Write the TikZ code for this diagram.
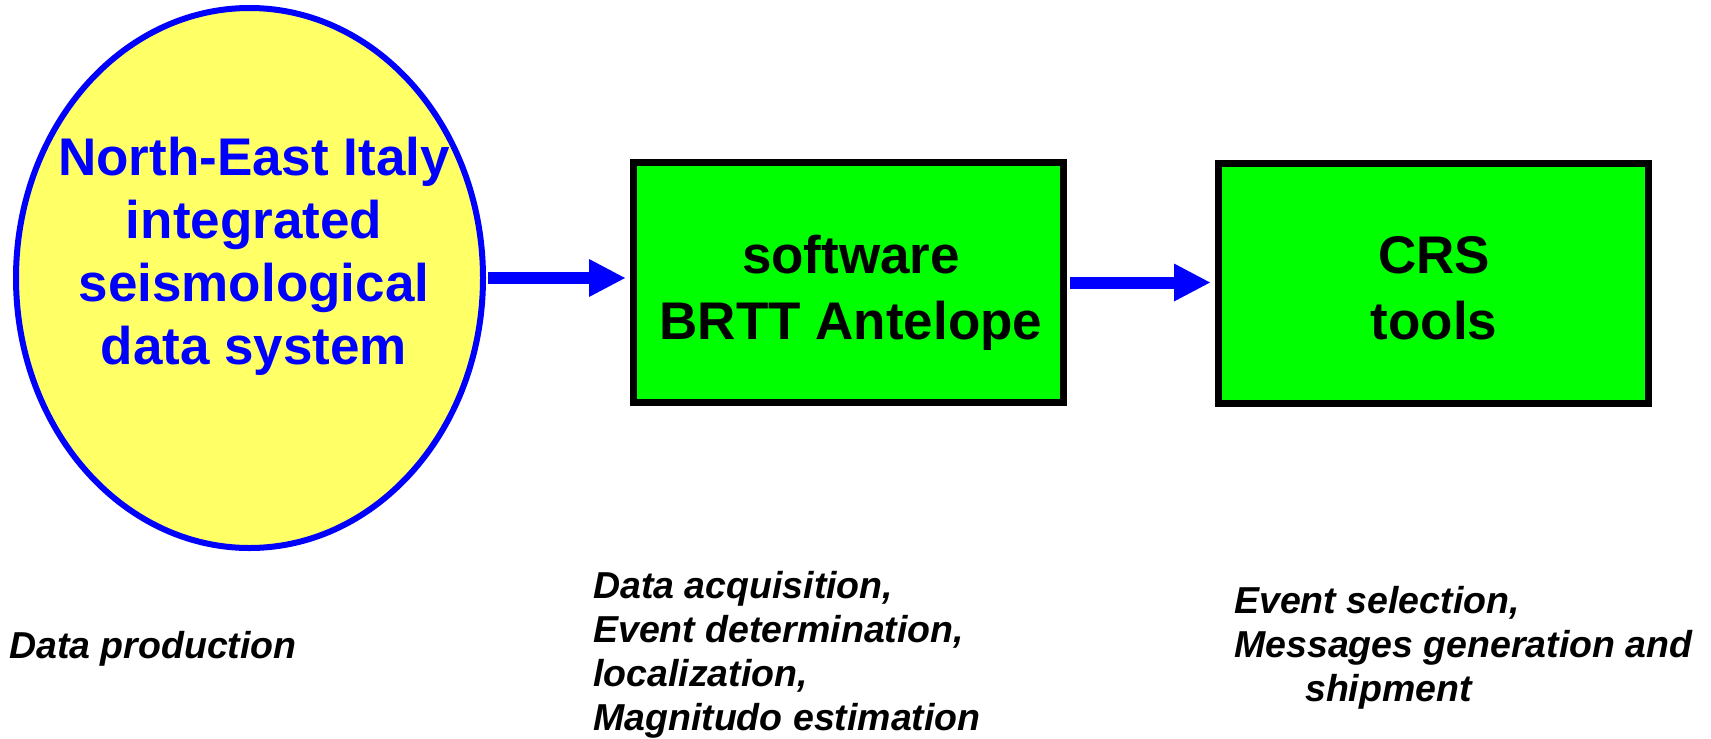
\documentclass[tikz,border=0pt]{standalone}
\usepackage{fontspec}
\setmainfont{Liberation Sans}
\usetikzlibrary{arrows.meta,shapes.geometric}
\definecolor{ellfill}{HTML}{FFFF66}
\definecolor{boxgreen}{HTML}{00FF00}
\definecolor{arrblue}{HTML}{0000FF}
\begin{document}
\begin{tikzpicture}[x=1pt,y=-1pt,
  bigtext/.style={font=\bfseries\fontsize{53}{63}\selectfont, align=center, inner sep=0pt, anchor=north},
  boxtext/.style={font=\bfseries\fontsize{53}{66}\selectfont, align=center, inner sep=0pt, anchor=north},
  stepbox/.style={draw=black, line width=7pt, fill=boxgreen, minimum width=430pt, minimum height=240pt, inner sep=0pt},
  flow/.style={draw=arrblue, line width=12pt, -{Triangle[length=36pt, width=38pt, line width=0pt]}},
  desc/.style={font=\bfseries\itshape\fontsize{37.5}{44}\selectfont, align=left, inner sep=0pt, anchor=north west}
]
\useasboundingbox (0,0) rectangle (1711,739);

% source ellipse
\node[draw=arrblue, line width=6pt, fill=ellfill, ellipse, minimum width=467pt, minimum height=540pt, inner sep=0pt] (src) at (249.5,278) {};
\node[bigtext, text=arrblue] (srctext) at (254,136.4) {North-East Italy\\integrated\\seismological\\data system};

% boxes
\node[stepbox] (b1) at (848.5,282.5) {};
\node[boxtext] (b1text) at (851,234.4) {software\\BRTT Antelope};
\node[stepbox] (b2) at (1433.5,283.5) {};
\node[boxtext] (b2text) at (1434,236) {CRS\\tools};

% arrows
\draw[flow, shorten <=2pt, shorten >=5pt] (src.east) -- (src.east -| b1.west);
\draw[flow, shorten <=3pt, shorten >=5pt] (b1.east) -- (b1.east -| b2.west);

% descriptions
\node[desc] (d1) at (9,631) {Data production};
\node[desc] (d2) at (593,571) {Data acquisition,\\Event determination,\\localization,\\Magnitudo estimation};
\node[desc] (d3) at (1234,586) {Event selection,\\Messages generation and\\\hspace*{71pt}shipment};
\end{tikzpicture}
\end{document}
